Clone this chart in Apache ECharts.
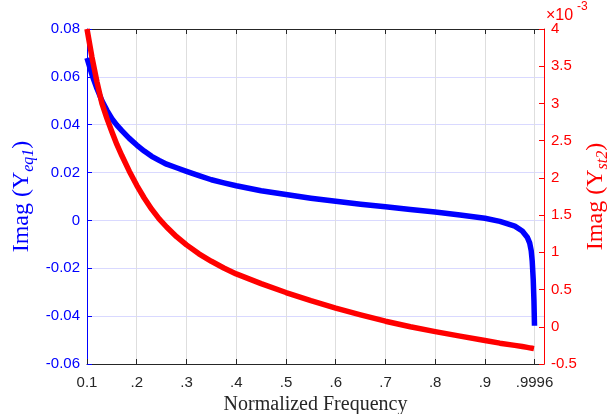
<!DOCTYPE html>
<html>
<head>
<meta charset="utf-8">
<script src="https://cdn.jsdelivr.net/npm/echarts@6/dist/echarts.min.js"></script>
<style>
html,body{margin:0;padding:0;background:#fff;}
#chart{width:608px;height:414px;}
</style>
</head>
<body>
<div id="chart"></div>
<script>
// Normalized frequency samples
var freq = [0.1, 0.11, 0.12, 0.13, 0.14, 0.15, 0.16, 0.17, 0.185, 0.2, 0.215, 0.23, 0.245, 0.26, 0.28, 0.3, 0.325, 0.35, 0.375, 0.4, 0.45, 0.5, 0.55, 0.6, 0.65, 0.7, 0.75, 0.8, 0.85, 0.9, 0.93, 0.96, 0.975, 0.985, 0.99, 0.993, 0.995, 0.997, 0.9985, 0.9996];
// Imag(Y_eq1) - left axis
var imagYeq1 = [0.0679, 0.0609, 0.0551, 0.0500, 0.0460, 0.0425, 0.0398, 0.0375, 0.0343, 0.0315, 0.0290, 0.0268, 0.0251, 0.0235, 0.0220, 0.0205, 0.0187, 0.0170, 0.0157, 0.0145, 0.0124, 0.0108, 0.0093, 0.0080, 0.0068, 0.0057, 0.0046, 0.0035, 0.0023, 0.0009, -0.0004, -0.0024, -0.0044, -0.0070, -0.0095, -0.0127, -0.0170, -0.0245, -0.0335, -0.0440];
// Imag(Y_st2) - right axis, in units of 1e-3
var imagYst2 = [4.00, 3.62, 3.29, 3.00, 2.80, 2.62, 2.45, 2.30, 2.09, 1.90, 1.73, 1.58, 1.45, 1.34, 1.21, 1.10, 0.98, 0.88, 0.79, 0.71, 0.58, 0.46, 0.35, 0.25, 0.16, 0.075, 0.00, -0.065, -0.125, -0.185, -0.22, -0.25, -0.265, -0.277, -0.283, -0.286, -0.289, -0.291, -0.293, -0.295];
// X tick values and labels
var xTickValues = [0.1, 0.2, 0.3, 0.4, 0.5, 0.6, 0.7, 0.8, 0.9, 0.9996];
var xTickLabels = ['0.1', '.2', '.3', '.4', '.5', '.6', '.7', '.8', '.9', '.9996'];

var chart = echarts.init(document.getElementById('chart'), null, {renderer: 'canvas'});

function pairs(xs, ys) {
  var out = [];
  for (var i = 0; i < xs.length; i++) out.push([xs[i], ys[i]]);
  return out;
}

var sansFont = 'Liberation Sans, Arial, Helvetica, sans-serif';
var serifFont = 'Liberation Serif, Times New Roman, serif';
var dark = '#262626';

var option = {
  animation: false,
  backgroundColor: '#ffffff',
  grid: {left: 87, right: 64, top: 29, bottom: 50, containLabel: false, outerBoundsMode: 'none'},
  xAxis: [{
    type: 'value',
    position: 'bottom',
    min: 0.1,
    max: 1.0187,
    name: 'Normalized Frequency',
    nameLocation: 'middle',
    nameGap: 31,
    nameMoveOverlap: false,
    nameTextStyle: {fontFamily: serifFont, fontSize: 20, color: dark},
    axisLine: {show: true, onZero: false, lineStyle: {color: dark, width: 1}},
    axisTick: {show: true, inside: true, length: 5, lineStyle: {color: dark}, customValues: xTickValues},
    axisLabel: {
      show: true, margin: 11, fontFamily: sansFont, fontSize: 15, color: dark,
      customValues: xTickValues,
      formatter: function (v) {
        for (var i = 0; i < xTickValues.length; i++) {
          if (Math.abs(xTickValues[i] - v) < 1e-6) return xTickLabels[i];
        }
        return '';
      }
    },
    splitLine: {show: true, lineStyle: {color: '#dedede', width: 1}}
  }, {
    type: 'value',
    position: 'top',
    min: 0.1,
    max: 1.0187,
    axisLine: {show: true, onZero: false, lineStyle: {color: dark, width: 1}},
    axisTick: {show: true, inside: true, length: 5, lineStyle: {color: dark}, customValues: xTickValues},
    axisLabel: {show: false},
    splitLine: {show: false}
  }],
  yAxis: [{
    type: 'value',
    position: 'left',
    min: -0.06,
    max: 0.08,
    interval: 0.02,
    name: '{a|Imag (Y}{s|eq1}{a|)}',
    nameLocation: 'middle',
    nameRotate: 90,
    nameGap: 50,
    nameMoveOverlap: false,
    nameTextStyle: {
      color: '#0000ff',
      rich: {
        a: {fontFamily: serifFont, fontSize: 24, color: '#0000ff', lineHeight: 30, verticalAlign: 'middle'},
        s: {fontFamily: serifFont, fontSize: 16, fontStyle: 'italic', color: '#0000ff', lineHeight: 16, verticalAlign: 'bottom'}
      }
    },
    axisLine: {show: true, onZero: false, lineStyle: {color: '#0000ff', width: 1}},
    axisTick: {show: true, inside: true, length: 5, lineStyle: {color: '#0000ff'}},
    axisLabel: {show: true, margin: 7, fontFamily: sansFont, fontSize: 15, color: '#0000ff'},
    splitLine: {show: true, lineStyle: {color: '#d9d9ff', width: 1}}
  }, {
    type: 'value',
    position: 'right',
    min: -0.5,
    max: 4,
    interval: 0.5,
    name: '{a|Imag (Y}{s|st2}{a|)}',
    nameLocation: 'middle',
    nameRotate: 90,
    nameGap: 37,
    nameMoveOverlap: false,
    nameTextStyle: {
      color: '#ff0000',
      rich: {
        a: {fontFamily: serifFont, fontSize: 24, color: '#ff0000', lineHeight: 30, verticalAlign: 'middle'},
        s: {fontFamily: serifFont, fontSize: 16, fontStyle: 'italic', color: '#ff0000', lineHeight: 16, verticalAlign: 'bottom'}
      }
    },
    axisLine: {show: true, onZero: false, lineStyle: {color: '#ff0000', width: 1}},
    axisTick: {show: true, inside: true, length: 5, lineStyle: {color: '#ff0000'}},
    axisLabel: {show: true, margin: 7, fontFamily: sansFont, fontSize: 15, color: '#ff0000'},
    splitLine: {show: false}
  }],
  graphic: [
    {type: 'text', left: 546, top: 8, style: {text: '\u00d710', fontFamily: sansFont, fontSize: 16, fill: '#ff0000'}},
    {type: 'text', left: 577, top: 1, style: {text: '-3', fontFamily: sansFont, fontSize: 12, fill: '#ff0000'}}
  ],
  series: [{
    type: 'line',
    xAxisIndex: 0,
    yAxisIndex: 0,
    data: pairs(freq, imagYeq1),
    showSymbol: false,
    symbol: 'none',
    smooth: false,
    lineStyle: {color: '#0000ff', width: 5.5, join: 'round'},
    z: 3
  }, {
    type: 'line',
    xAxisIndex: 0,
    yAxisIndex: 1,
    data: pairs(freq, imagYst2),
    showSymbol: false,
    symbol: 'none',
    smooth: false,
    lineStyle: {color: '#ff0000', width: 5.5, join: 'round'},
    z: 4
  }]
};
chart.setOption(option);
</script>
</body>
</html>
